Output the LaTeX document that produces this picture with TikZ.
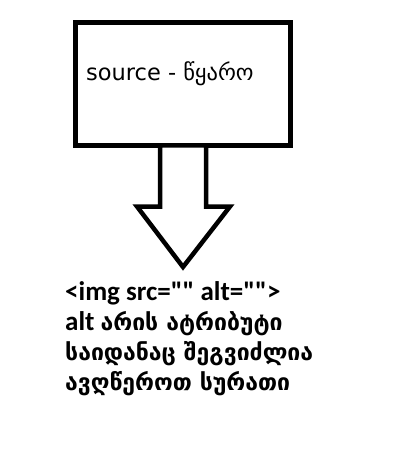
\documentclass[tikz,border=0pt]{standalone}
\usepackage{fontspec}
\setmainfont{Carlito}[Ligatures=TeXOff]
\newfontfamily\geo{DejaVu Sans}
\begin{document}
\begin{tikzpicture}[x=1pt,y=-1pt,
  thick line/.style={line width=4.5pt,line join=miter},
  lbl/.style={inner sep=0pt,anchor=base west}]
\useasboundingbox[fill=white] (0,0) rectangle (416,457);
\draw[thick line] (75.5,22.5) rectangle (290.5,145.5);
\node[lbl,font=\geo\fontsize{22.5}{22.5}\selectfont] (src) at (86,81) {source - წყარო};
\draw[thick line,fill=white] (160,145.5) -- (160,206.5) -- (137,206.5) -- (183,267) -- (230,206.5) -- (206,206.5) -- (206,145.5) -- cycle;
\node[lbl,font=\bfseries\fontsize{27}{27}\selectfont] (l1) at (65,300) {<img src="" alt="">};
\node[lbl,font=\bfseries\fontsize{27}{27}\selectfont] (l2) at (65,330) {alt {\geo\fontsize{23}{23}\selectfont არის ატრიბუტი}};
\node[lbl,font=\geo\bfseries\fontsize{23}{23}\selectfont] (l3) at (65,360) {საიდანაც შეგვიძლია};
\node[lbl,font=\geo\bfseries\fontsize{23}{23}\selectfont] (l4) at (65,390) {ავღწეროთ სურათი};
\end{tikzpicture}
\end{document}
